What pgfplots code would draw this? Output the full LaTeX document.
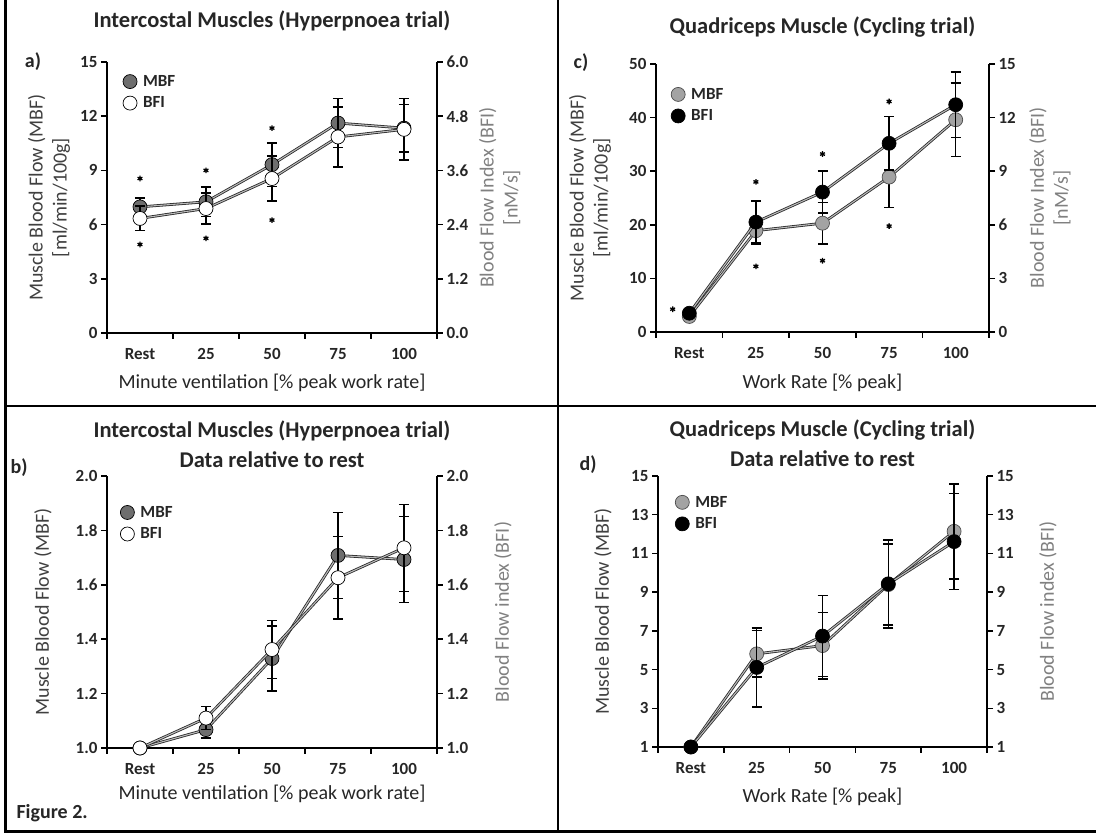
\documentclass[border=0pt]{standalone}
\usepackage{fontspec}
\setmainfont{Carlito}
\usepackage{pgfplots}
\pgfplotsset{compat=1.18}

\definecolor{lab}{HTML}{404040}
\definecolor{labr}{HTML}{808080}
\definecolor{txt}{HTML}{262626}
\definecolor{mbfdark}{HTML}{6E6E6E}
\definecolor{mbflight}{HTML}{A3A3A3}

\pgfplotsset{
  panel/.style={
    scale only axis, clip=false,
    xmin=-0.5, xmax=4.5,
    axis line style={-, line width=1.5pt, black},
    tick style={line width=1.5pt, black},
    tick align=outside, major tick length=6pt,
    ticklabel style={font=\fontsize{17}{17}\selectfont\bfseries, text=txt},
    /pgf/number format/assume math mode=true,
    label style={font=\fontsize{20}{24}\selectfont},
    title style={font=\fontsize{22.5}{30}\selectfont\bfseries, text=txt, align=center, anchor=center},
  },
  leftax/.style={panel, axis y line*=left, axis x line*=bottom,
    xtick={-0.5,0.5,1.5,2.5,3.5,4.5}, xticklabels={Rest,25,50,75,100,{}},
    ylabel style={text=lab, align=center, anchor=center},
    xlabel style={text=txt, anchor=center},
    legend style={draw=none, fill=none, anchor=north west, inner sep=0pt,
      font=\fontsize{17}{17}\selectfont\bfseries, text=txt, row sep=5pt,
      /tikz/every odd column/.append style={column sep=4pt}},
    legend cell align=left,
    legend image code/.code={\draw[#1] plot coordinates {(0pt,0pt)};},
  },
  rightax/.style={panel, axis y line*=right, axis x line=none,
    ylabel style={text=labr, align=center, anchor=center},
  },
  conn/.style={draw=black!85, double=gray!55, line width=0.8pt, double distance=1.1pt, mark=none, forget plot},
  pts/.style={only marks, mark=*, mark size=7pt, line width=0.7pt,
    error bars/y dir=both, error bars/y explicit,
    error bars/error bar style={line width=1.5pt, black},
    error bars/error mark options={line width=1.5pt, mark size=5pt, black, rotate=90}},
  star/.style={only marks, mark=asterisk, mark size=2.8pt, line width=1.3pt, black, forget plot},
}

\begin{document}
\begin{tikzpicture}
\useasboundingbox (0,0) rectangle (1096pt,833pt);

% ---------- a) ----------
\begin{axis}[leftax, at={(107pt,500pt)}, anchor=south west, width=330pt, height=271pt,
  ymin=0, ymax=15, ytick={0,3,...,15},
  xticklabel style={xshift=33pt, yshift=-6pt},
  ylabel={Muscle Blood Flow (MBF)\\{}[ml/min/100g]},
  ylabel style={at={(axis description cs:-0.176,0.5)}},
  xlabel={Minute ventilation [\% peak work rate]},
  xlabel style={at={(axis description cs:0.5,-0.185)}},
  title={Intercostal Muscles (Hyperpnoea trial)},
  title style={at={(axis description cs:0.5,1.129)}},
  legend style={at={(axis description cs:0.048,0.959)}}]
\addlegendimage{mark=*, mark size=7pt, mark options={fill=mbfdark, draw=black, line width=0.7pt}}
\addlegendentry{MBF}
\addlegendimage{mark=*, mark size=7pt, mark options={fill=white, draw=black, line width=0.7pt}}
\addlegendentry{BFI}
\addplot[conn] coordinates {(0,6.98) (1,7.26) (2,9.32) (3,11.62) (4,11.34)};
\addplot[pts, mark options={fill=mbfdark, draw=black}] coordinates {
  (0,6.98) +- (0,0.5)
  (1,7.26) +- (0,0.81)
  (2,9.32) +- (0,1.2)
  (3,11.62) +- (0,1.35)
  (4,11.34) +- (0,1.32)
};
\addplot[star] coordinates {(0,8.55) (0,4.9) (1,9.0) (1,5.24) (2,11.34) (2,6.25)};
\end{axis}
\begin{axis}[rightax, at={(107pt,500pt)}, anchor=south west, width=330pt, height=271pt,
  ymin=0, ymax=6, ytick={0,1.2,2.4,3.6,4.8,6},
  yticklabel style={/pgf/number format/.cd, fixed, fixed zerofill, precision=1},
  ylabel={Blood Flow Index (BFI)\\{}[nM/s]},
  ylabel style={at={(axis description cs:1.19,0.5)}}]
\addplot[conn] coordinates {(0,2.536) (1,2.756) (2,3.42) (3,4.34) (4,4.508)};
\addplot[pts, mark options={fill=white, draw=black}] coordinates {
  (0,2.536) +- (0,0.272)
  (1,2.756) +- (0,0.34)
  (2,3.42) +- (0,0.5)
  (3,4.34) +- (0,0.66)
  (4,4.508) +- (0,0.68)
};
\end{axis}

% ---------- c) ----------
\begin{axis}[leftax, at={(656pt,501pt)}, anchor=south west, width=333pt, height=268pt,
  ymin=0, ymax=50, ytick={0,10,...,50},
  xticklabel style={xshift=33.3pt, yshift=-6pt},
  ylabel={Muscle Blood Flow (MBF)\\{}[ml/min/100g]},
  ylabel style={at={(axis description cs:-0.198,0.5)}},
  xlabel={Work Rate [\% peak]},
  xlabel style={at={(axis description cs:0.5,-0.19)}},
  title={Quadriceps Muscle (Cycling trial)},
  title style={at={(axis description cs:0.5,1.116)}},
  legend style={at={(axis description cs:0.045,0.918)}}]
\addlegendimage{mark=*, mark size=7pt, mark options={fill=mbflight, draw=black!70, line width=0.7pt}}
\addlegendentry{MBF}
\addlegendimage{mark=*, mark size=7pt, mark options={fill=black, draw=black, line width=0.7pt}}
\addlegendentry{BFI}
\addplot[conn] coordinates {(0,2.9) (1,18.9) (2,20.3) (3,28.9) (4,39.6)};
\addplot[pts, mark options={fill=mbflight, draw=black!70}] coordinates {
  (0,2.9) +- (0,0.5)
  (1,18.9) +- (0,2.5)
  (2,20.3) +- (0,3.9)
  (3,28.9) +- (0,5.7)
  (4,39.6) +- (0,6.9)
};
\addplot[star] coordinates {(-0.25,4.25) (1,28.0) (1,12.25) (2,33.2) (2,13.3) (3,43.0) (3,19.75)};
\end{axis}
\begin{axis}[rightax, at={(656pt,501pt)}, anchor=south west, width=333pt, height=268pt,
  ymin=0, ymax=15, ytick={0,3,...,15},
  ylabel={Blood Flow Index (BFI)\\{}[nM/s]},
  ylabel style={at={(axis description cs:1.183,0.5)}}]
\addplot[conn] coordinates {(0,1.05) (1,6.15) (2,7.83) (3,10.56) (4,12.72)};
\addplot[pts, mark options={fill=black, draw=black}] coordinates {
  (0,1.05) +- (0,0.15)
  (1,6.15) +- (0,1.17)
  (2,7.83) +- (0,1.17)
  (3,10.56) +- (0,1.5)
  (4,12.72) +- (0,1.83)
};
\end{axis}

% ---------- b) ----------
\begin{axis}[leftax, at={(107pt,85pt)}, anchor=south west, width=330pt, height=272pt,
  ymin=1, ymax=2, ytick={1,1.2,1.4,1.6,1.8,2},
  yticklabel style={/pgf/number format/.cd, fixed, fixed zerofill, precision=1},
  xticklabel style={xshift=33pt, yshift=-6pt},
  ylabel={Muscle Blood Flow (MBF)},
  ylabel style={at={(axis description cs:-0.194,0.5)}},
  xlabel={Minute ventilation [\% peak work rate]},
  xlabel style={at={(axis description cs:0.5,-0.169)}},
  title={Intercostal Muscles (Hyperpnoea trial)\\ Data relative to rest},
  title style={at={(axis description cs:0.5,1.096)}},
  legend style={at={(axis description cs:0.04,0.897)}}]
\addlegendimage{mark=*, mark size=7pt, mark options={fill=mbfdark, draw=black, line width=0.7pt}}
\addlegendentry{MBF}
\addlegendimage{mark=*, mark size=7pt, mark options={fill=white, draw=black, line width=0.7pt}}
\addlegendentry{BFI}
\addplot[conn] coordinates {(0,1.0) (1,1.0675) (2,1.329) (3,1.708) (4,1.693)};
\addplot[pts, mark options={fill=mbfdark, draw=black}] coordinates {
  (0,1.0) +- (0,0)
  (1,1.0675) +- (0,0.03)
  (2,1.329) +- (0,0.12)
  (3,1.708) +- (0,0.158)
  (4,1.693) +- (0,0.158)
};
\end{axis}
\begin{axis}[rightax, at={(107pt,85pt)}, anchor=south west, width=330pt, height=272pt,
  ymin=1, ymax=2, ytick={1,1.2,1.4,1.6,1.8,2},
  yticklabel style={/pgf/number format/.cd, fixed, fixed zerofill, precision=1},
  ylabel={Blood Flow index (BFI)},
  ylabel style={at={(axis description cs:1.2,0.5)}}]
\addplot[conn] coordinates {(0,1.0) (1,1.11) (2,1.362) (3,1.626) (4,1.736)};
\addplot[pts, mark options={fill=white, draw=black}] coordinates {
  (0,1.0) +- (0,0)
  (1,1.11) +- (0,0.042)
  (2,1.362) +- (0,0.106)
  (3,1.626) +- (0,0.152)
  (4,1.736) +- (0,0.16)
};
\end{axis}

% ---------- d) ----------
\begin{axis}[leftax, at={(658pt,86pt)}, anchor=south west, width=329pt, height=271pt,
  ymin=1, ymax=15, ytick={1,3,...,15},
  xticklabel style={xshift=32.9pt, yshift=-6pt},
  ylabel={Muscle Blood Flow (MBF)},
  ylabel style={at={(axis description cs:-0.167,0.5)}},
  xlabel={Work Rate [\% peak]},
  xlabel style={at={(axis description cs:0.5,-0.185)}},
  title={Quadriceps Muscle (Cycling trial)\\ Data relative to rest},
  title style={at={(axis description cs:0.5,1.1)}},
  legend style={at={(axis description cs:0.052,0.934)}}]
\addlegendimage{mark=*, mark size=7pt, mark options={fill=mbflight, draw=black!70, line width=0.7pt}}
\addlegendentry{MBF}
\addlegendimage{mark=*, mark size=7pt, mark options={fill=black, draw=black, line width=0.7pt}}
\addlegendentry{BFI}
\addplot[conn] coordinates {(0,1) (1,5.81) (2,6.24) (3,9.39) (4,12.14)};
\addplot[pts, mark options={fill=mbflight, draw=black!70}] coordinates {
  (0,1) +- (0,0)
  (1,5.81) +- (0,1.2)
  (2,6.24) +- (0,1.72)
  (3,9.39) +- (0,2.1)
  (4,12.14) +- (0,2.45)
};
\end{axis}
\begin{axis}[rightax, at={(658pt,86pt)}, anchor=south west, width=329pt, height=271pt,
  ymin=1, ymax=15, ytick={1,3,...,15},
  ylabel={Blood Flow index (BFI)},
  ylabel style={at={(axis description cs:1.185,0.5)}}]
\addplot[conn] coordinates {(0,1) (1,5.11) (2,6.73) (3,9.43) (4,11.61)};
\addplot[pts, mark options={fill=black, draw=black}] coordinates {
  (0,1) +- (0,0)
  (1,5.11) +- (0,2.05)
  (2,6.73) +- (0,2.1)
  (3,9.43) +- (0,2.27)
  (4,11.61) +- (0,2.48)
};
\end{axis}

% panel letters and frame
\node[font=\fontsize{20}{20}\selectfont\bfseries, text=txt] at (33pt,771pt) {a)};
\node[font=\fontsize{20}{20}\selectfont\bfseries, text=txt] at (581pt,770pt) {c)};
\node[font=\fontsize{20}{20}\selectfont\bfseries, text=txt] at (19pt,365pt) {b)};
\node[font=\fontsize{20}{20}\selectfont\bfseries, text=txt] at (588pt,368pt) {d)};
\node[font=\fontsize{20}{20}\selectfont\bfseries, text=txt, anchor=west] at (13pt,20pt) {Figure 2.};
\draw[line width=3pt, black] (5pt,0pt) -- (5pt,833pt);
\draw[line width=1.5pt, black] (558pt,0pt) -- (558pt,833pt);
\draw[line width=1.8pt, black] (5pt,427pt) -- (1096pt,427pt);
\draw[line width=2.5pt, black] (5pt,1.5pt) -- (1096pt,1.5pt);
\end{tikzpicture}
\end{document}
